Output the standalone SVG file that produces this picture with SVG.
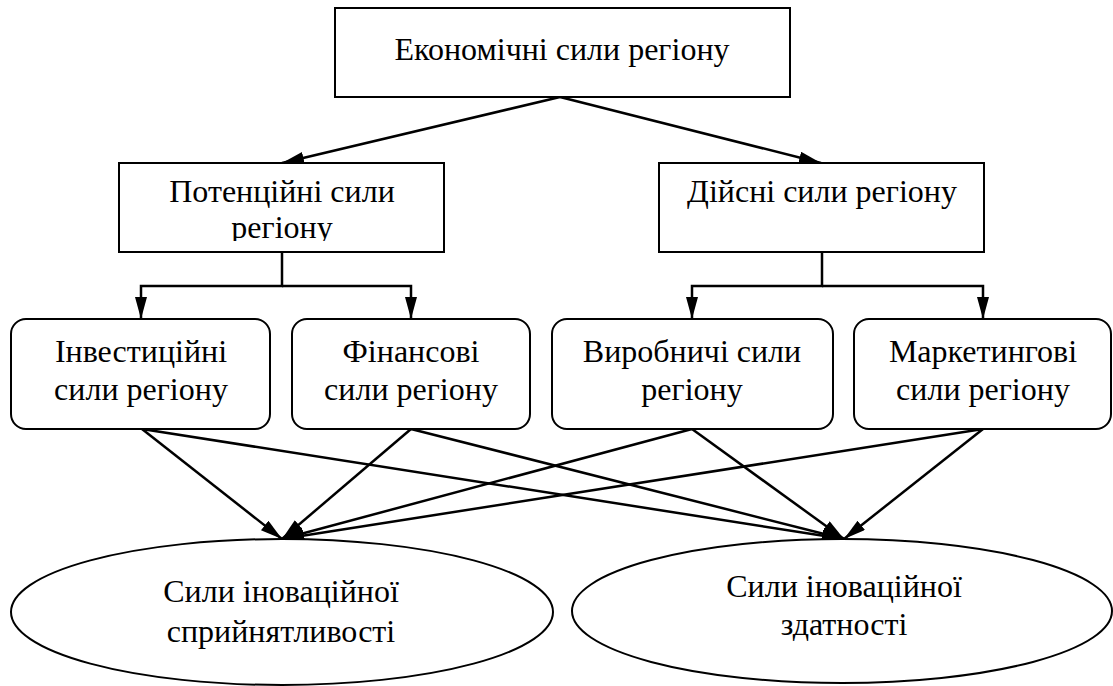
<svg xmlns="http://www.w3.org/2000/svg" width="1113" height="686" viewBox="0 0 1113 686">
<style>
.box{fill:#fff;stroke:#000;stroke-width:2}
.c{fill:none;stroke:#000;stroke-width:2.5}
</style>
<defs>
<marker id="ah" markerUnits="userSpaceOnUse" markerWidth="24" markerHeight="14" refX="22" refY="6" orient="auto">
<path d="M0,0 L22,6 L0,12 Z" fill="#000"/>
</marker>
<clipPath id="clipP"><rect x="119" y="163" width="325" height="78"/></clipPath>
</defs>
<rect width="1113" height="686" fill="#fff"/>
<g id="connectors">
<path class="c" d="M560,97 L282,163" marker-end="url(#ah)"/>
<path class="c" d="M560,97 L821,163" marker-end="url(#ah)"/>
<path class="c" d="M282,252 V286 H141 V319" marker-end="url(#ah)"/>
<path class="c" d="M282,286 H411 V319" marker-end="url(#ah)"/>
<path class="c" d="M822,252 V286 H692 V319" marker-end="url(#ah)"/>
<path class="c" d="M822,286 H983 V319" marker-end="url(#ah)"/>
<path class="c" d="M142,429 L282,539" marker-end="url(#ah)"/>
<path class="c" d="M142,429 L844,539" marker-end="url(#ah)"/>
<path class="c" d="M411,429 L282,539" marker-end="url(#ah)"/>
<path class="c" d="M411,429 L844,539" marker-end="url(#ah)"/>
<path class="c" d="M692,429 L282,539" marker-end="url(#ah)"/>
<path class="c" d="M692,429 L844,539" marker-end="url(#ah)"/>
<path class="c" d="M983,429 L282,539" marker-end="url(#ah)"/>
<path class="c" d="M983,429 L844,539" marker-end="url(#ah)"/>
</g>
<g font-family="Liberation Serif" font-size="32" text-anchor="middle" fill="#000">
<g id="n-econ">
<rect class="box" x="335" y="8" width="455" height="89"/>
<text x="562" y="60">Економічні сили регіону</text>
</g>
<g id="n-potential">
<rect class="box" x="119" y="163" width="325" height="89"/>
<g clip-path="url(#clipP)">
<text x="282" y="202">Потенційні сили</text>
<text x="282" y="238">регіону</text>
</g>
</g>
<g id="n-actual">
<rect class="box" x="659" y="163" width="325" height="89"/>
<text x="822" y="202">Дійсні сили регіону</text>
</g>
<g id="n-invest">
<rect class="box" x="11" y="319" width="259" height="110" rx="15"/>
<text x="141" y="362">Інвестиційні</text>
<text x="141" y="400">сили регіону</text>
</g>
<g id="n-finance">
<rect class="box" x="292" y="319" width="238" height="110" rx="15"/>
<text x="411" y="362">Фінансові</text>
<text x="411" y="400">сили регіону</text>
</g>
<g id="n-production">
<rect class="box" x="552" y="319" width="281" height="110" rx="15"/>
<text x="692" y="362">Виробничі сили</text>
<text x="692" y="400">регіону</text>
</g>
<g id="n-marketing">
<rect class="box" x="854" y="319" width="257" height="110" rx="15"/>
<text x="983" y="362">Маркетингові</text>
<text x="983" y="400">сили регіону</text>
</g>
<g id="n-receptivity">
<ellipse class="box" cx="282" cy="612" rx="271" ry="73"/>
<text x="281" y="602">Сили іноваційної</text>
<text x="281" y="642">сприйнятливості</text>
</g>
<g id="n-capability">
<ellipse class="box" cx="842" cy="611" rx="270" ry="72"/>
<text x="844" y="597">Сили іноваційної</text>
<text x="844" y="635">здатності</text>
</g>
</g>
</svg>
